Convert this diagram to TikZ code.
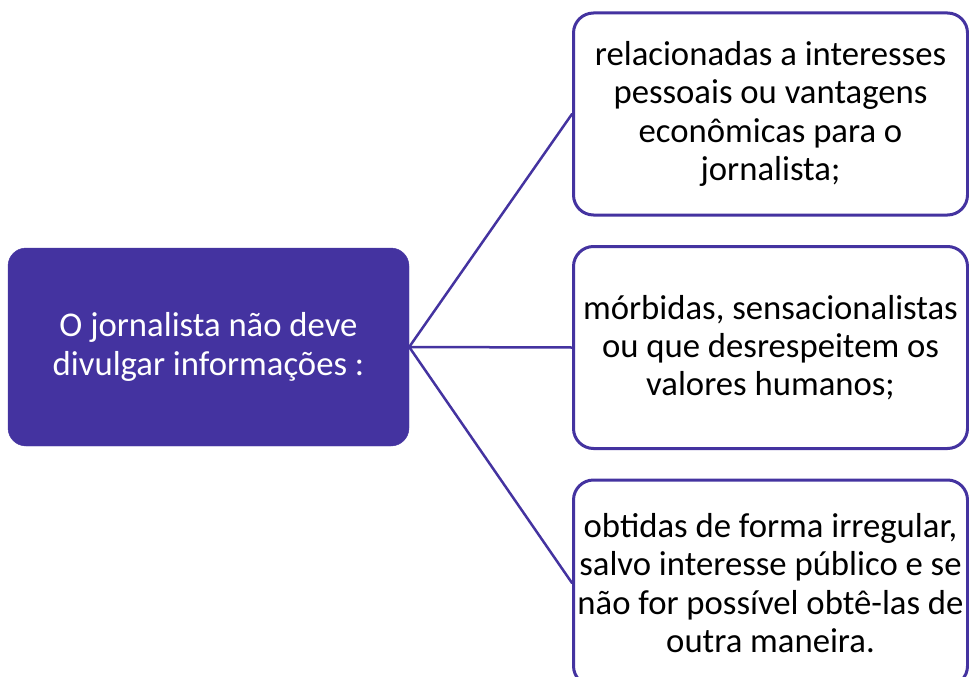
\documentclass[tikz,border=0pt]{standalone}
\usepackage{fontspec}
\setmainfont{Carlito}
\usepackage{tikz}
\usetikzlibrary{positioning}
\definecolor{roxo}{RGB}{68,51,160}

\begin{document}
\begin{tikzpicture}[line cap=round,line join=round,x=1pt,y=-1pt,
  texto/.style={align=center,inner sep=0pt,font=\fontsize{34.7}{38.3}\selectfont},
  raiz/.style={texto,draw=roxo,fill=roxo,text=white,rounded corners=18pt,minimum width=401pt,minimum height=198pt},
  folha/.style={texto,draw=roxo,fill=white,line width=3pt,rounded corners=20pt,minimum width=394pt,minimum height=202pt},
  ramo/.style={draw=roxo,line width=2.5pt}]
\useasboundingbox (0,0) rectangle (969,677);
\clip (0,0) rectangle (969,677);
\node[raiz] (origem) at (208.5,347) {O jornalista não deve\\divulgar informações :};
\node[folha] (pessoais) at (770.5,114) {relacionadas a interesses\\pessoais ou vantagens\\econômicas para o\\jornalista;};
\node[folha] (morbidas) at (770.5,347.5) {mórbidas, sensacionalistas\\ou que desrespeitem os\\valores humanos;};
\node[folha, minimum height=206pt] (obtidas) at (770.5,583) {obtidas de forma irregular,\\salvo interesse público e se\\não for possível obtê-las de\\outra maneira.};
\draw[ramo] (origem.east) -- (pessoais.west);
\draw[ramo] (origem.east) -- (morbidas.west);
\draw[ramo] (origem.east) -- (obtidas.west);
\end{tikzpicture}
\end{document}
